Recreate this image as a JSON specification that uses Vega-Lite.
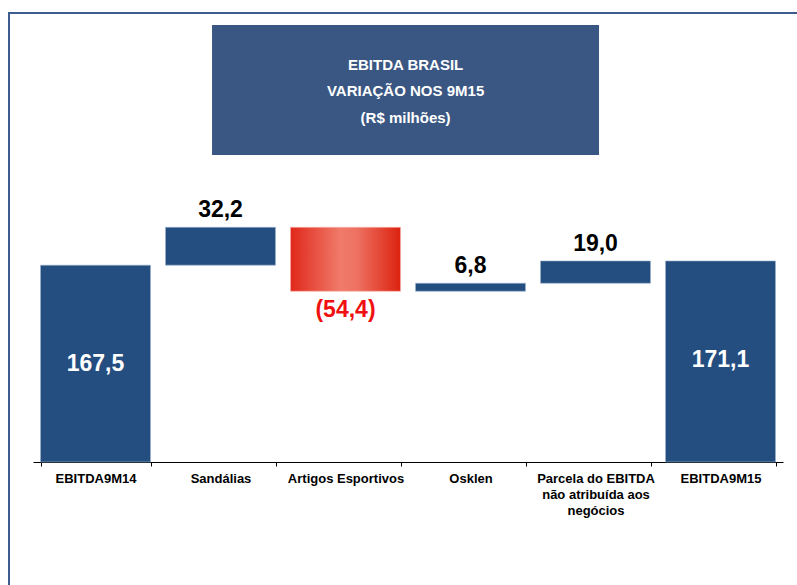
{
  "$schema": "https://vega.github.io/schema/vega-lite/v6.json",
  "width": 792,
  "height": 576,
  "autosize": {"type": "none"},
  "padding": {"left": 9, "top": 13, "right": -4, "bottom": -4},
  "background": "white",
  "config": {"view": {"stroke": "#3D5D8E", "strokeWidth": 2}},
  "data": {
    "values": [
      {"cat": "EBITDA9M14", "start": 0, "end": 167.5, "label": "167,5", "tipo": "total"},
      {"cat": "Sandálias", "start": 167.5, "end": 199.7, "label": "32,2", "tipo": "aumento"},
      {"cat": "Artigos Esportivos", "start": 199.7, "end": 145.3, "label": "(54,4)", "tipo": "redução"},
      {"cat": "Osklen", "start": 145.3, "end": 152.1, "label": "6,8", "tipo": "aumento"},
      {"cat": "Parcela do EBITDA não atribuída aos negócios", "start": 152.1, "end": 171.1, "label": "19,0", "tipo": "aumento"},
      {"cat": "EBITDA9M15", "start": 0, "end": 171.1, "label": "171,1", "tipo": "total"}
    ]
  },
  "layer": [
    {
      "transform": [{"filter": "datum.tipo != 'redução'"}],
      "mark": {"type": "bar", "color": "#234E7F", "stroke": "#9FB4CF", "strokeWidth": 1, "strokeOpacity": 0.6},
      "encoding": {
        "x": {
          "field": "cat",
          "type": "nominal",
          "sort": null,
          "title": null,
          "scale": {
            "type": "band",
            "domain": ["EBITDA9M14", "Sandálias", "Artigos Esportivos", "Osklen", "Parcela do EBITDA não atribuída aos negócios", "EBITDA9M15"],
            "range": [24, 774],
            "paddingInner": 0.12,
            "paddingOuter": 0.06
          },
          "axis": {
            "orient": "bottom",
            "offset": -127,
            "tickBand": "extent",
            "domainColor": "#000000",
            "domainWidth": 1,
            "tickColor": "#000000",
            "tickSize": 4,
            "labelAngle": 0,
            "labelFont": "Liberation Sans",
            "labelFontWeight": "bold",
            "labelFontSize": 13,
            "labelColor": "#000000",
            "labelPadding": 6,
            "labelBaseline": "top",
            "labelLineHeight": 16,
            "labelLimit": 200,
            "labelExpr": "datum.value == 'Parcela do EBITDA não atribuída aos negócios' ? ['Parcela do EBITDA', 'não atribuída aos', 'negócios'] : datum.label",
            "grid": false
          }
        },
        "y": {"field": "start", "type": "quantitative", "scale": {"domain": [-108.1, 382.1], "nice": false, "zero": false}, "axis": null},
        "y2": {"field": "end"}
      }
    },
    {
      "transform": [{"filter": "datum.tipo == 'redução'"}],
      "mark": {
        "type": "bar",
        "color": {"gradient": "linear", "x1": 0, "y1": 0, "x2": 1, "y2": 0, "stops": [
          {"offset": 0, "color": "#E0281A"},
          {"offset": 0.45, "color": "#F07A6A"},
          {"offset": 0.6, "color": "#EE7262"},
          {"offset": 1, "color": "#DC2210"}
        ]},
        "stroke": "#F8B0A8", "strokeWidth": 1, "strokeOpacity": 0.6
      },
      "encoding": {
        "x": {"field": "cat", "type": "nominal", "sort": null},
        "y": {"field": "start", "type": "quantitative"},
        "y2": {"field": "end"}
      }
    },
    {
      "transform": [{"filter": "datum.tipo == 'total'"}],
      "mark": {"type": "text", "color": "white", "font": "Liberation Sans", "fontWeight": "bold", "fontSize": 23, "baseline": "middle", "dy": 99},
      "encoding": {
        "x": {"field": "cat", "type": "nominal", "sort": null},
        "y": {"field": "end", "type": "quantitative"},
        "text": {"field": "label"}
      }
    },
    {
      "transform": [{"filter": "datum.tipo == 'aumento'"}],
      "mark": {"type": "text", "color": "#000000", "font": "Liberation Sans", "fontWeight": "bold", "fontSize": 23, "baseline": "bottom", "dy": -5},
      "encoding": {
        "x": {"field": "cat", "type": "nominal", "sort": null},
        "y": {"field": "end", "type": "quantitative"},
        "text": {"field": "label"}
      }
    },
    {
      "transform": [{"filter": "datum.tipo == 'redução'"}],
      "mark": {"type": "text", "color": "#F01010", "font": "Liberation Sans", "fontWeight": "bold", "fontSize": 23, "baseline": "top", "dy": 8},
      "encoding": {
        "x": {"field": "cat", "type": "nominal", "sort": null},
        "y": {"field": "end", "type": "quantitative"},
        "text": {"field": "label"}
      }
    },
    {
      "data": {"values": [{"titulo": "EBITDA BRASIL"}]},
      "mark": {"type": "rect", "color": "#3A5783"},
      "encoding": {
        "x": {"datum": "Sandálias", "type": "nominal", "bandPosition": 0.423},
        "x2": {"datum": "Parcela do EBITDA não atribuída aos negócios", "bandPosition": 0.532},
        "y": {"datum": 371.9, "type": "quantitative"},
        "y2": {"datum": 261.3}
      }
    },
    {
      "data": {"values": [{"titulo": "EBITDA BRASIL"}]},
      "mark": {"type": "text", "text": ["EBITDA BRASIL", "VARIAÇÃO NOS 9M15", "(R$ milhões)"], "color": "white", "font": "Liberation Sans", "fontWeight": "bold", "fontSize": 15, "lineHeight": 26.5, "baseline": "middle", "align": "center"},
      "encoding": {
        "x": {"datum": "Osklen", "type": "nominal", "bandPosition": -0.09},
        "y": {"datum": 337.9, "type": "quantitative"}
      }
    }
  ]
}
